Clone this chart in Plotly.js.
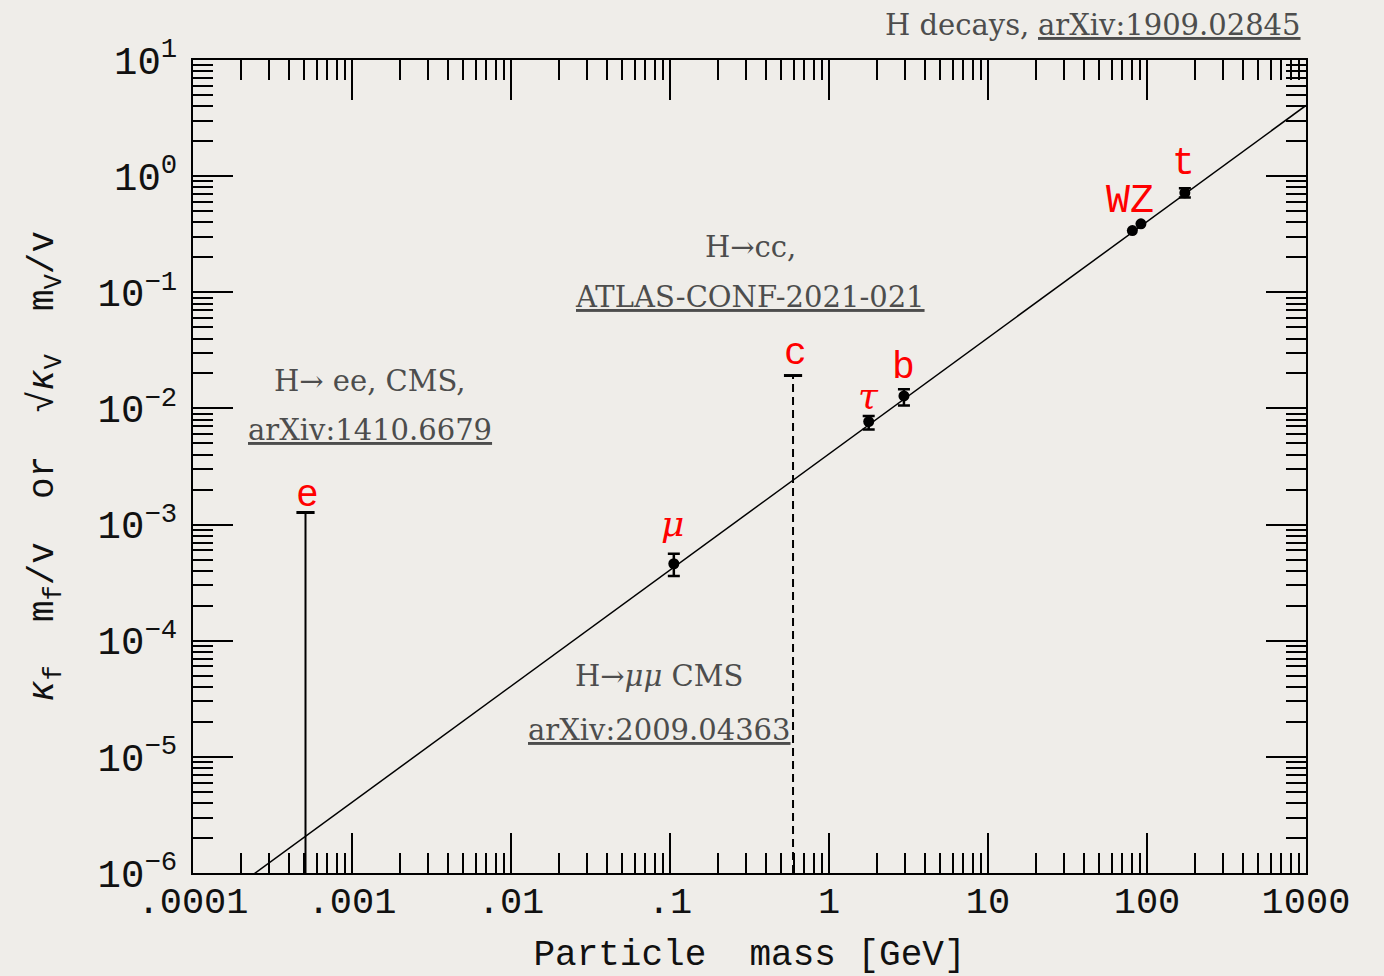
<!DOCTYPE html>
<html>
<head>
<meta charset="utf-8">
<script src="https://cdn.plot.ly/plotly-3.0.1.min.js"></script>
<style>
  html, body { margin: 0; padding: 0; background: #efede9; }
  #chart { width: 1384px; height: 976px; }
</style>
</head>
<body>
<div id="chart"></div>
<script>
// ---- data ----
// fermions / top with measured couplings
const fitNames   = ['μ', 'τ', 'b', 't'];
const fitMass    = [0.1057, 1.777, 2.96, 173];      // GeV
const fitValue   = [4.6e-4, 7.7e-3, 0.0128, 0.718];
const fitErrUp   = [1.0e-4, 0.9e-3, 0.0018, 0.068];
const fitErrDown = [1.0e-4, 1.1e-3, 0.0022, 0.064];

const bosonNames = ['W', 'Z'];
const bosonMass  = [80.9, 91.6];
const bosonValue = [0.340, 0.389];

// upper limits
const eMass = 5.1e-4, eLimit = 1.27e-3;
const cMass = 0.594,  cLimit = 0.0192;
const limitFloor = 1e-6;

// SM expectation line  y = m / v
const smLineX = [1e-4, 1000];
const smLineY = [4.06e-7, 4.06];

// tick labels
const xTickVals = [1e-4, 1e-3, 1e-2, 1e-1, 1, 10, 100, 1000];
const xTickText = ['.0001', '.001', '.01', '.1', '1', '10', '100', '1000'];
const yTickVals = [1e-6, 1e-5, 1e-4, 1e-3, 1e-2, 1e-1, 1, 10];
const yTickText = ['10<sup>−6</sup>', '10<sup>−5</sup>', '10<sup>−4</sup>', '10<sup>−3</sup>',
                   '10<sup>−2</sup>', '10<sup>−1</sup>', '10<sup>0</sup>', '10<sup>1</sup>'];

function minorLog(lo, hi) {
  const v = [];
  for (let d = lo; d < hi; d++) for (let k = 2; k <= 9; k++) v.push(k * Math.pow(10, d));
  return v;
}

const MONO = 'Liberation Mono, DejaVu Sans Mono, monospace';
const SERIF = 'DejaVu Serif, Liberation Serif, serif';
const GRAY = '#4d4d4d';
const SFS = 29;

const traces = [
  { x: smLineX, y: smLineY, mode: 'lines', line: { color: 'black', width: 1.5 },
    showlegend: false, hoverinfo: 'skip' },
  { x: [eMass, eMass], y: [limitFloor, eLimit], mode: 'lines',
    line: { color: 'black', width: 2 }, showlegend: false },
  { x: [cMass, cMass], y: [limitFloor, cLimit], mode: 'lines',
    line: { color: 'black', width: 2, dash: '8px,5px' }, showlegend: false },
  { x: [eMass, cMass], y: [eLimit, cLimit], mode: 'markers',
    marker: { symbol: 'line-ew', size: 13, line: { color: 'black', width: 3 } },
    showlegend: false },
  { x: fitMass, y: fitValue, text: fitNames, mode: 'markers',
    marker: { color: 'black', size: 11 },
    error_y: { type: 'data', symmetric: false, array: fitErrUp, arrayminus: fitErrDown,
               color: 'black', thickness: 2.5, width: 6 },
    showlegend: false },
  { x: bosonMass, y: bosonValue, text: bosonNames, mode: 'markers',
    marker: { color: 'black', size: 11 }, showlegend: false }
];

function dataAnn(px, py, text, opts) {
  // label placed next to its mark; px, py in picture pixels -> log10 data coords
  const xl = -4 + (px - 193) / 159;
  const yl = -6 + (873 - py) / 116.14;
  return Object.assign({ x: xl, y: yl, xref: 'x', yref: 'y', text: text, showarrow: false,
    xanchor: 'center', yanchor: 'middle',
    font: { family: MONO, size: 38, color: 'red' } }, opts || {});
}
function paperAnn(px, py, text, opts) {
  return Object.assign({ x: (px - 193) / 1113, y: (873 - py) / 813, xref: 'paper', yref: 'paper',
    text: text, showarrow: false, xanchor: 'center', yanchor: 'middle',
    font: { family: SERIF, size: SFS, color: GRAY } }, opts || {});
}
const UNDER = { family: SERIF, size: SFS, color: GRAY, lineposition: 'under' };

const annotations = [
  dataAnn(307, 496, 'e'),
  dataAnn(795, 354, 'c'),
  dataAnn(868, 396, 'τ', { font: { family: SERIF, size: 36, color: 'red', style: 'italic' } }),
  dataAnn(903, 368, 'b'),
  dataAnn(672, 524, 'μ', { font: { family: SERIF, size: 36, color: 'red', style: 'italic' } }),
  dataAnn(1130, 202, 'WZ', { font: { family: MONO, size: 40, color: 'red' } }),
  dataAnn(1183, 164, 't'),

  paperAnn(1031, 25, 'H decays,', { xanchor: 'right' }),
  paperAnn(1303, 25, 'arXiv:1909.02845', { xanchor: 'right', font: UNDER }),
  paperAnn(750, 247, 'H→cc,'),
  paperAnn(750, 297, 'ATLAS-CONF-2021-021', { font: UNDER }),
  paperAnn(370, 381, 'H→ ee, CMS,'),
  paperAnn(370, 430, 'arXiv:1410.6679', { font: UNDER }),
  paperAnn(659, 676, 'H→<i>μμ</i> CMS'),
  paperAnn(659, 730, 'arXiv:2009.04363', { font: UNDER })
];

const axisCommon = {
  type: 'log', showline: true, linewidth: 2, linecolor: 'black', mirror: 'allticks',
  ticks: 'inside', ticklen: 40, tickwidth: 2, tickcolor: 'black',
  showgrid: false, zeroline: false, tickmode: 'array'
};

const layout = {
  width: 1384, height: 976,
  margin: { l: 193, r: 78, t: 60, b: 103 },
  paper_bgcolor: '#efede9', plot_bgcolor: 'rgba(0,0,0,0)',
  showlegend: false,
  xaxis: Object.assign({}, axisCommon, {
    range: [-4, 3], tickvals: xTickVals, ticktext: xTickText,
    tickfont: { family: MONO, size: 37, color: '#111' },
    ticklabelstandoff: -6,
    minor: { ticks: 'inside', ticklen: 20, tickwidth: 2, tickcolor: 'black',
             tickmode: 'array', tickvals: minorLog(-4, 3), showgrid: false },
    title: { text: 'Particle\u00a0\u00a0mass [GeV]', font: { family: MONO, size: 36, color: '#111' } },
    automargin: false
  }),
  yaxis: Object.assign({}, axisCommon, {
    range: [-6, 1], tickvals: yTickVals, ticktext: yTickText,
    tickfont: { family: MONO, size: 39, color: '#111' },
    ticklabelstandoff: 6,
    minor: { ticks: 'inside', ticklen: 20, tickwidth: 2, tickcolor: 'black',
             tickmode: 'array', tickvals: minorLog(-6, 1), showgrid: false },
    title: { text: '<i>κ</i><sub>f</sub>\u00a0\u00a0m<sub>f</sub>/v\u00a0\u00a0or\u00a0\u00a0√<i>κ</i><sub>V</sub>\u00a0\u00a0m<sub>V</sub>/v',
             font: { family: MONO, size: 36, color: '#111' }, standoff: 33 },
    automargin: true
  }),
  annotations: annotations
};

Plotly.newPlot('chart', traces, layout, { displayModeBar: false, staticPlot: true });
</script>
</body>
</html>
